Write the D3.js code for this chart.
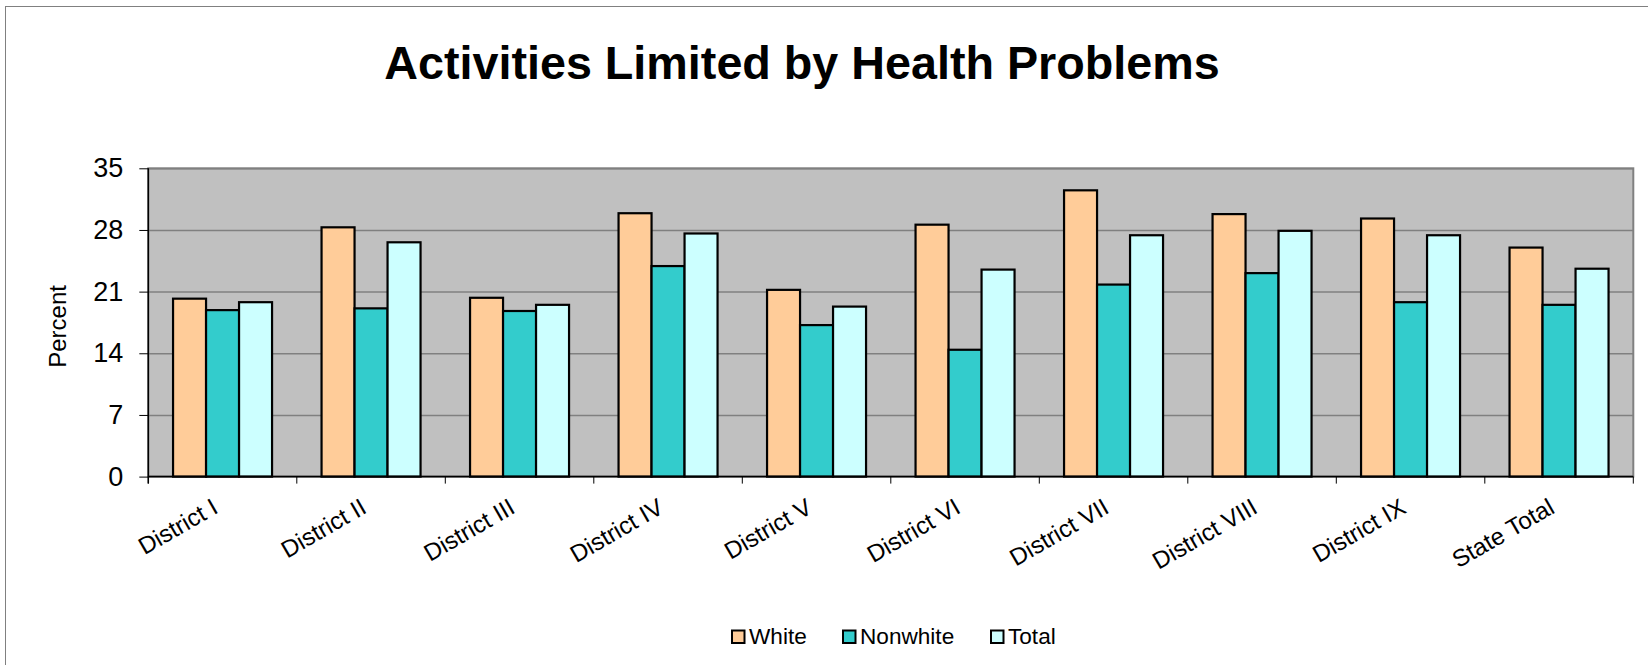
<!DOCTYPE html>
<html>
  <head>
    <title>Activities Limited by Health Problems</title>
    <script src="https://cdn.jsdelivr.net/npm/d3@7"></script>
    <style>
      body { margin: 0; background: #ffffff; }
      text { font-family: Arial, "Liberation Sans", sans-serif; }
    </style>
  </head>
  <body>
    <svg width="1648" height="665" id="mainsvg"></svg>
    <script>
        // data
        const categories = ["District I", "District II", "District III", "District IV", "District V",
            "District VI", "District VII", "District VIII", "District IX", "State Total"];
        const seriesNames = ["White", "Nonwhite", "Total"];
        const white    = [20.2, 28.3, 20.3, 29.9, 21.2, 28.6, 32.5, 29.8, 29.3, 26.0];
        const nonwhite = [18.9, 19.1, 18.8, 23.9, 17.2, 14.4, 21.8, 23.1, 19.8, 19.5];
        const total    = [19.8, 26.6, 19.5, 27.6, 19.3, 23.5, 27.4, 27.9, 27.4, 23.6];
        const yTicks = [0, 7, 14, 21, 28, 35];

        const colors = {"White": "#FFCC99", "Nonwhite": "#33CCCC", "Total": "#CCFFFF"};

        const svg = d3.select('#mainsvg');
        const plot = {left: 148.3, right: 1633.3, top: 168.3, bottom: 476.6};

        // outer chart frame (only left/top edges are visible)
        svg.append('rect')
            .attr('x', 5.5).attr('y', 6.5)
            .attr('width', 1700).attr('height', 700)
            .attr('fill', 'none')
            .attr('stroke', '#808080')
            .attr('stroke-width', 1);

        // title
        svg.append('text')
            .attr('x', 802).attr('y', 79)
            .attr('text-anchor', 'middle')
            .attr('font-size', 46.7)
            .attr('font-weight', 'bold')
            .text('Activities Limited by Health Problems');

        const x0 = d3.scaleBand()
            .domain(categories)
            .range([plot.left, plot.right])
            .padding(0);
        const x1 = d3.scaleBand()
            .domain(seriesNames)
            .range([0, x0.bandwidth()])
            .paddingInner(0)
            .paddingOuter(0.75);
        const y = d3.scaleLinear()
            .domain([0, 35])
            .range([plot.bottom, plot.top]);

        // plot background
        svg.append('rect')
            .attr('x', plot.left).attr('y', plot.top)
            .attr('width', plot.right - plot.left)
            .attr('height', plot.bottom - plot.top)
            .attr('fill', '#C0C0C0')
            .attr('stroke', '#808080')
            .attr('stroke-width', 2);

        // gridlines
        svg.append('g')
            .attr('transform', `translate(${plot.left},0)`)
            .call(d3.axisLeft(y).tickValues(yTicks).tickSize(-(plot.right - plot.left)).tickFormat(''))
            .call(g => g.select('.domain').remove())
            .call(g => g.selectAll('line').attr('stroke', '#808080').attr('stroke-width', 1.5));

        // y axis
        const yAxisGroup = svg.append('g')
            .attr('transform', `translate(${plot.left},0)`)
            .call(d3.axisLeft(y).tickValues(yTicks).tickSize(9).tickPadding(16));
        yAxisGroup.select('.domain').attr('stroke', '#000').attr('stroke-width', 1.5)
            .attr('d', `M0,${plot.top}V${plot.bottom + 7}`);
        yAxisGroup.selectAll('.tick text').attr('font-size', 27).attr('font-family', 'Arial, "Liberation Sans", sans-serif');

        svg.append('text')
            .attr('transform', `translate(66, ${(plot.top + plot.bottom) / 2 + 4}) rotate(-90)`)
            .attr('text-anchor', 'middle')
            .attr('font-size', 24)
            .text('Percent');

        // bars
        const rows = categories.map((c, i) => ({cat: c, vals: [white[i], nonwhite[i], total[i]]}));
        svg.append('g').selectAll('g')
            .data(rows)
            .join('g')
            .attr('transform', d => `translate(${x0(d.cat)},0)`)
            .selectAll('rect')
            .data(d => d.vals.map((v, k) => ({key: seriesNames[k], value: v})))
            .join('rect')
            .attr('x', d => x1(d.key))
            .attr('y', d => y(d.value))
            .attr('width', x1.bandwidth())
            .attr('height', d => y(0) - y(d.value))
            .attr('fill', d => colors[d.key])
            .attr('stroke', '#000')
            .attr('stroke-width', 2.2);

        // x axis
        const boundaries = categories.map(c => x0(c)).concat([plot.right]);
        const xAxisGroup = svg.append('g');
        xAxisGroup.append('line')
            .attr('x1', plot.left).attr('x2', plot.right)
            .attr('y1', plot.bottom).attr('y2', plot.bottom)
            .attr('stroke', '#000').attr('stroke-width', 1.5);
        xAxisGroup.selectAll('.xtick')
            .data(boundaries)
            .join('line')
            .attr('class', 'xtick')
            .attr('x1', d => d).attr('x2', d => d)
            .attr('y1', plot.bottom).attr('y2', plot.bottom + 7)
            .attr('stroke', '#000').attr('stroke-width', 1);
        xAxisGroup.selectAll('.xlabel')
            .data(categories)
            .join('text')
            .attr('class', 'xlabel')
            .attr('transform', d => `translate(${x0(d) + x0.bandwidth() / 2 - 3}, 512) rotate(-30)`)
            .attr('text-anchor', 'end')
            .attr('font-size', 24)
            .text(d => d);

        // legend
        const legendX = [732, 843, 991];
        const legend = svg.append('g');
        seriesNames.forEach((s, i) => {
            legend.append('rect')
                .attr('x', legendX[i]).attr('y', 630.5)
                .attr('width', 12.5).attr('height', 12.5)
                .attr('fill', colors[s])
                .attr('stroke', '#000').attr('stroke-width', 2);
            legend.append('text')
                .attr('x', legendX[i] + 17).attr('y', 643.5)
                .attr('font-size', 22.6)
                .text(s);
        });
    </script>
  </body>
</html>
